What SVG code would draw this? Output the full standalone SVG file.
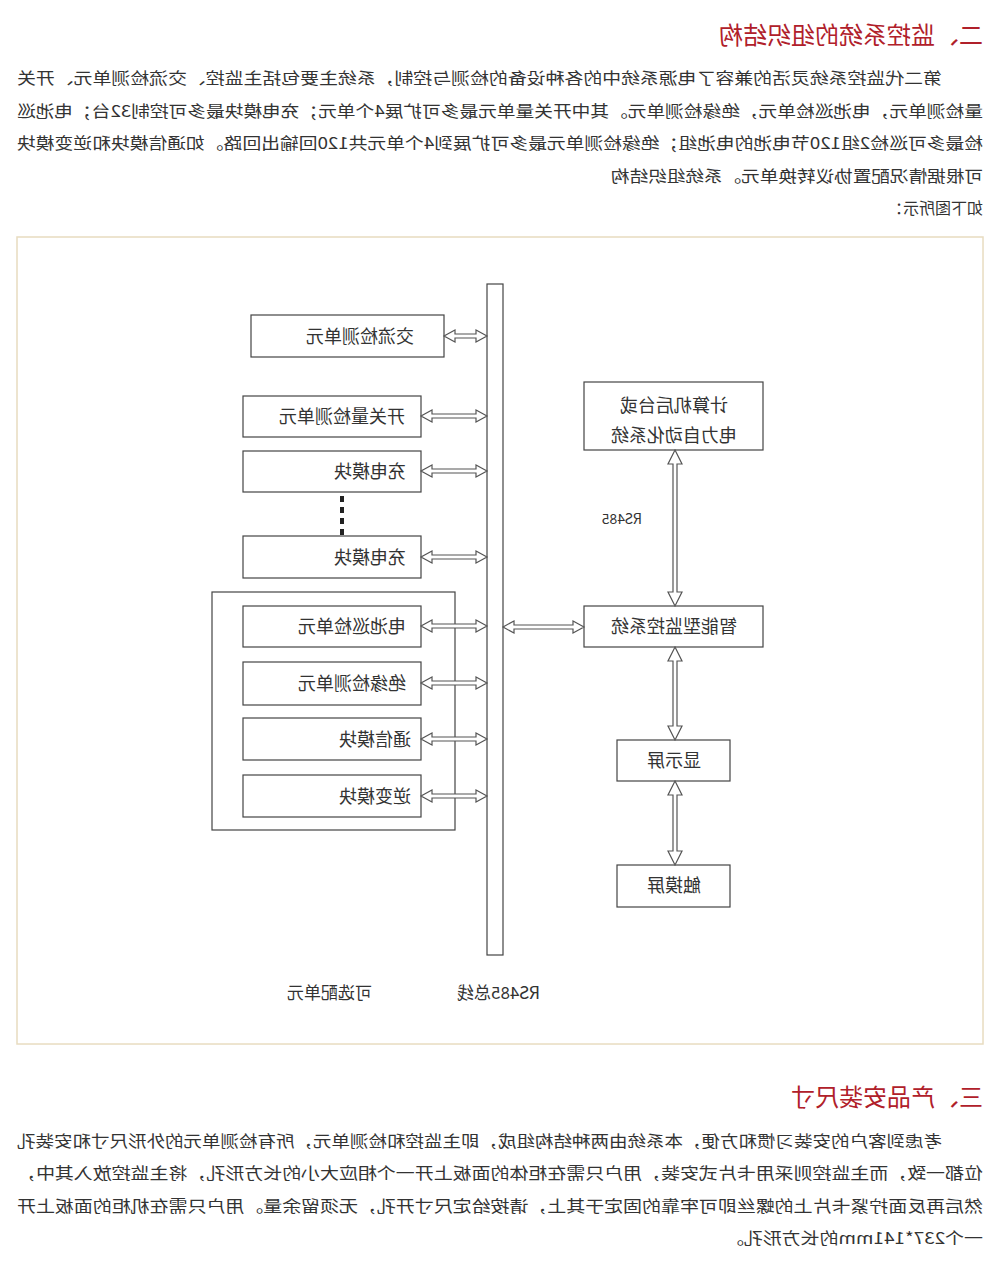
<svg xmlns="http://www.w3.org/2000/svg" width="1000" height="1273" viewBox="0 0 1000 1273">
<style>
text{font-family:"Noto Sans CJK SC","Liberation Sans",sans-serif;fill:#333}
.p{font-size:16px}
.h{font-size:24px;fill:#b0202a}
.b{font-size:18px;text-anchor:middle}
.box{fill:#fff;stroke:#444;stroke-width:1.2}
.ar{fill:#fff;stroke:#555;stroke-width:1.2}
</style>
<rect width="1000" height="1273" fill="#fff"/>
<g transform="translate(1000,0) scale(-1,1)">
<g id="text1">
<text class="h" x="17" y="44">二、监控系统的组织结构</text>
<text class="p" x="58" y="84" textLength="925" lengthAdjust="spacingAndGlyphs">第二代监控系统灵活的兼容了电源系统中的各种设备的检测与控制，系统主要包括主监控、交流检测单元、开关</text>
<text class="p" x="17" y="117" textLength="966" lengthAdjust="spacingAndGlyphs">量检测单元，电池巡检单元，绝缘检测单元。其中开关量单元最多可扩展4个单元；充电模块最多可控制32台；电池巡</text>
<text class="p" x="17" y="149" textLength="966" lengthAdjust="spacingAndGlyphs">检最多可巡检2组120节电池的电池组；绝缘检测单元最多可扩展到4个单元共120回输出回路。如通信模块和逆变模块</text>
<text class="p" x="17" y="182" textLength="372" lengthAdjust="spacingAndGlyphs">可根据情况配置协议转换单元。系统组织结构</text>
<text class="p" x="17" y="214">如下图所示：</text>
</g>
<rect x="17" y="237" width="966" height="807" fill="none" stroke="#e8dcc0" stroke-width="1.5"/>
<rect id="bus" x="497" y="284" width="16" height="671" class="box"/>
<rect id="group" x="545" y="592" width="243" height="238" fill="none" stroke="#444" stroke-width="1.2"/>
<g id="n1"><rect class="box" x="556" y="315" width="193" height="42"/><text class="b" x="640" y="343">交流检测单元</text></g>
<g id="n2"><rect class="box" x="579" y="396" width="178" height="41"/><text class="b" x="658" y="423">开关量检测单元</text></g>
<g id="n3"><rect class="box" x="579" y="451" width="178" height="41"/><text class="b" x="630" y="478">充电模块</text></g>
<g id="n4"><rect class="box" x="579" y="536" width="178" height="42"/><text class="b" x="630" y="564">充电模块</text></g>
<g id="n5"><rect class="box" x="579" y="606" width="178" height="41"/><text class="b" x="648" y="633">电池巡检单元</text></g>
<g id="n6"><rect class="box" x="579" y="662" width="178" height="43"/><text class="b" x="648" y="690">绝缘检测单元</text></g>
<g id="n7"><rect class="box" x="579" y="718" width="178" height="42"/><text class="b" x="625" y="746">通信模块</text></g>
<g id="n8"><rect class="box" x="579" y="775" width="178" height="42"/><text class="b" x="625" y="803">逆变模块</text></g>
<g id="n9"><rect class="box" x="237" y="382" width="179" height="68"/><text class="b" x="326" y="412">计算机后台或</text><text class="b" x="326" y="442">电力自动化系统</text></g>
<g id="n10"><rect class="box" x="237" y="606" width="179" height="41"/><text class="b" x="326" y="633">智能型监控系统</text></g>
<g id="n11"><rect class="box" x="270" y="740" width="113" height="41"/><text class="b" x="326" y="767">显示屏</text></g>
<g id="n12"><rect class="box" x="270" y="865" width="113" height="42"/><text class="b" x="326" y="892">触摸屏</text></g>
<g id="connectors">
<line x1="658" y1="496" x2="658" y2="535" stroke="#222" stroke-width="4" stroke-dasharray="6,5"/>
<path class="ar" d="M513,336 l11,-6 v4 h21 v-4 l11,6 l-11,6 v-4 h-21 v4z"/>
<path class="ar" d="M513,416 l11,-6 v4 h44 v-4 l11,6 l-11,6 v-4 h-44 v4z"/>
<path class="ar" d="M513,471 l11,-6 v4 h44 v-4 l11,6 l-11,6 v-4 h-44 v4z"/>
<path class="ar" d="M513,557 l11,-6 v4 h44 v-4 l11,6 l-11,6 v-4 h-44 v4z"/>
<path class="ar" d="M513,626 l11,-6 v4 h44 v-4 l11,6 l-11,6 v-4 h-44 v4z"/>
<path class="ar" d="M513,683 l11,-6 v4 h44 v-4 l11,6 l-11,6 v-4 h-44 v4z"/>
<path class="ar" d="M513,739 l11,-6 v4 h44 v-4 l11,6 l-11,6 v-4 h-44 v4z"/>
<path class="ar" d="M513,796 l11,-6 v4 h44 v-4 l11,6 l-11,6 v-4 h-44 v4z"/>
<path class="ar" d="M416,627 l11,-6 v4 h59 v-4 l11,6 l-11,6 v-4 h-59 v4z"/>
<path class="ar" d="M325,450 l-7,14 h5 v128 h-5 l7,14 l7,-14 h-5 v-128 h5z"/>
<path class="ar" d="M325,647 l-7,14 h5 v65 h-5 l7,14 l7,-14 h-5 v-65 h5z"/>
<path class="ar" d="M325,781 l-7,14 h5 v56 h-5 l7,14 l7,-14 h-5 v-56 h5z"/>
</g>
<text style="font-size:14px" x="358" y="524">RS485</text>
<text style="font-size:17px" x="628" y="999">可选配单元</text>
<text style="font-size:17px" x="460" y="999">RS485总线</text>
<g id="text2">
<text class="h" x="17" y="1106">三、产品安装尺寸</text>
<text class="p" x="58" y="1147" textLength="925" lengthAdjust="spacingAndGlyphs">考虑到客户的安装习惯和方便，本系统由两种结构组成，即主监控和检测单元，所有检测单元的外形尺寸和安装孔</text>
<text class="p" x="17" y="1179" textLength="966" lengthAdjust="spacingAndGlyphs">位都一致，而主监控则采用卡片式安装，用户只需在柜体的面板上开一个相应大小的长方形孔，将主监控放入其中，</text>
<text class="p" x="17" y="1212" textLength="966" lengthAdjust="spacingAndGlyphs">然后再反面拧紧卡片上的螺丝即可牢靠的固定于其上，请按给定尺寸开孔，无须留余量。用户只需在机柜的面板上开</text>
<text class="p" x="17" y="1244" textLength="258" lengthAdjust="spacingAndGlyphs">一个237*141mm的长方形孔。</text>
</g>
</g>
</svg>
